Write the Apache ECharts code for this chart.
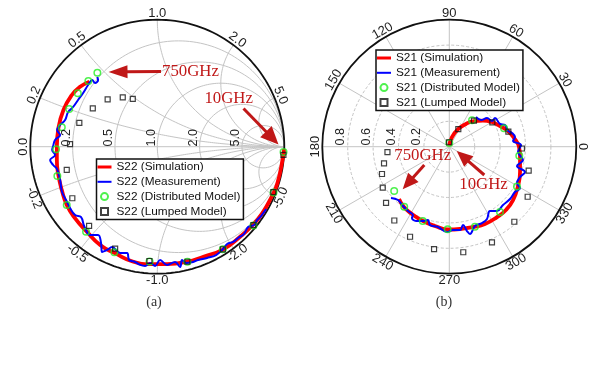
<!DOCTYPE html>
<html>
<head>
<meta charset="utf-8">
<script src="https://cdn.jsdelivr.net/npm/echarts@6/dist/echarts.min.js"></script>
<style>
  html, body { margin: 0; padding: 0; background: #fff; }
  #chart { width: 612px; height: 378px; }
</style>
</head>
<body>
<div id="chart"></div>
<script>
// S22 reflection (Re, Im), 10 GHz -> 750 GHz
const s22Simulation = [
  [0.998,-0.018],[0.993,-0.065],[0.945,-0.290],[0.897,-0.400],[0.826,-0.525],[0.752,-0.617],
  [0.652,-0.709],[0.520,-0.808],[0.363,-0.866],[0.232,-0.906],[0.075,-0.924],[-0.057,-0.924],
  [-0.188,-0.906],[-0.332,-0.839],[-0.450,-0.774],[-0.555,-0.669],[-0.647,-0.564],[-0.713,-0.459],
  [-0.752,-0.341],[-0.779,-0.223],[-0.791,-0.105],[-0.791,0.000],[-0.779,0.145],[-0.739,0.289],
  [-0.673,0.407],[-0.608,0.472],[-0.535,0.512]
];
const s22Measurement = [
  [0.857,-0.491],[0.817,-0.546],[0.786,-0.577],[0.762,-0.617],[0.715,-0.632],[0.683,-0.687],
  [0.636,-0.719],[0.597,-0.750],[0.550,-0.766],[0.510,-0.813],[0.463,-0.853],[0.392,-0.876],
  [0.321,-0.892],[0.282,-0.908],[0.227,-0.916],[0.195,-0.892],[0.180,-0.947],[0.140,-0.908],
  [0.077,-0.931],[0.022,-0.892],[-0.017,-0.939],[-0.057,-0.916],[-0.096,-0.939],[-0.135,-0.931],
  [-0.175,-0.908],[-0.222,-0.892],[-0.238,-0.837],[-0.293,-0.837],[-0.356,-0.790],[-0.395,-0.813],
  [-0.435,-0.829],[-0.443,-0.758],[-0.466,-0.695],[-0.529,-0.695],[-0.576,-0.624],[-0.600,-0.554],
  [-0.647,-0.538],[-0.687,-0.483],[-0.710,-0.435],[-0.750,-0.357],[-0.765,-0.262],[-0.789,-0.176],
  [-0.820,-0.144],[-0.844,-0.105],[-0.805,-0.065],[-0.828,-0.026],[-0.820,0.006],[-0.805,0.053],
  [-0.765,0.092],[-0.789,0.131],[-0.765,0.171],[-0.726,0.210],[-0.702,0.273],[-0.663,0.313],
  [-0.624,0.368],[-0.584,0.423],[-0.545,0.486],[-0.513,0.525],[-0.490,0.502],[-0.466,0.525],
  [-0.474,0.549]
];
const s22Distributed = [
  [0.994,-0.042],[0.915,-0.361],[0.757,-0.620],[0.516,-0.808],[0.237,-0.906],[-0.061,-0.904],
  [-0.338,-0.831],[-0.561,-0.669],[-0.713,-0.459],[-0.787,-0.231],[-0.797,-0.020],[-0.752,0.153],
  [-0.694,0.297],[-0.626,0.420],[-0.543,0.517],[-0.472,0.583]
];
const s22Lumped = [
  [0.993,-0.065],[0.914,-0.357],[0.757,-0.617],[0.516,-0.808],[0.237,-0.906],[-0.062,-0.900],
  [-0.332,-0.803],[-0.537,-0.624],[-0.669,-0.406],[-0.713,-0.183],[-0.687,0.021],[-0.614,0.188],
  [-0.508,0.302],[-0.391,0.372],[-0.272,0.389],[-0.193,0.376]
];

// S21 transmission (Re, Im), 10 GHz -> 750 GHz
const s21Simulation = [
  [0.000,0.010],[0.021,0.076],[0.069,0.139],[0.131,0.179],[0.194,0.202],[0.265,0.206],
  [0.336,0.194],[0.399,0.163],[0.462,0.124],[0.509,0.069],[0.549,-0.002],[0.557,-0.081],
  [0.557,-0.199],[0.541,-0.309],[0.502,-0.420],[0.446,-0.498],[0.376,-0.554],[0.281,-0.609],
  [0.194,-0.632],[0.084,-0.648],[-0.010,-0.652],[-0.113,-0.624],[-0.207,-0.585],[-0.294,-0.530],
  [-0.357,-0.475],[-0.396,-0.412]
];
const s21Measurement = [
  [0.210,0.234],[0.250,0.210],[0.297,0.226],[0.336,0.202],[0.360,0.226],[0.399,0.179],
  [0.439,0.171],[0.462,0.124],[0.494,0.108],[0.517,0.076],[0.502,0.045],[0.565,0.013],
  [0.541,-0.042],[0.580,-0.105],[0.533,-0.152],[0.596,-0.199],[0.557,-0.239],[0.533,-0.286],
  [0.557,-0.325],[0.517,-0.357],[0.478,-0.412],[0.423,-0.459],[0.376,-0.506],[0.320,-0.506],
  [0.297,-0.569],[0.257,-0.601],[0.202,-0.624],[0.163,-0.687],[0.139,-0.664],[0.108,-0.617],
  [0.084,-0.656],[0.029,-0.656],[-0.018,-0.672],[-0.089,-0.632],[-0.152,-0.617],[-0.168,-0.577],
  [-0.215,-0.585],[-0.262,-0.585],[-0.294,-0.561],[-0.286,-0.538],[-0.325,-0.506],[-0.365,-0.467],
  [-0.404,-0.420],[-0.459,-0.404]
];
const s21Distributed = [
  [0.000,0.030],[0.179,0.208],[0.431,0.145],[0.551,-0.071],[0.533,-0.313],[0.399,-0.514],
  [0.202,-0.630],[-0.013,-0.650],[-0.209,-0.585],[-0.355,-0.472],[-0.434,-0.349]
];
const s21Lumped = [
  [-0.002,0.035],[0.071,0.139],[0.194,0.205],[0.339,0.192],[0.465,0.118],[0.572,-0.014],
  [0.625,-0.189],[0.617,-0.394],[0.512,-0.591],[0.336,-0.753],[0.110,-0.831],[-0.120,-0.806],
  [-0.309,-0.709],[-0.433,-0.581],[-0.498,-0.443],[-0.524,-0.323],[-0.530,-0.215],[-0.514,-0.131],
  [-0.487,-0.042]
];

// tick labels
const smithTicks = [0.2, 0.5, 1.0, 2.0, 5.0];
const polarAngleTicks = [0, 30, 60, 90, 120, 150, 180, 210, 240, 270, 300, 330];
const polarRadiusTicks = [0.2, 0.4, 0.6, 0.8];

// layout
const A = { cx: 157.3, cy: 146.7, r: 127 };
const B = { cx: 449.3, cy: 146.7, r: 127 };
const RED = "#c01818";
const GRID_GRAY = "#c4c4c4";
const deg = Math.PI / 180;

const myChart = echarts.init(document.getElementById("chart"));

// smith chart grid (constant resistance circles, constant reactance arcs)
function resistanceCircle(r) {
  const pts = [];
  for (let k = 0; k <= 180; k++) {
    const t = (k / 180) * 2 * Math.PI;
    pts.push([r / (1 + r) + Math.cos(t) / (1 + r), Math.sin(t) / (1 + r)]);
  }
  return pts;
}
function reactanceArc(x) {
  const pts = [];
  for (let k = 0; k <= 240; k++) {
    const t = (k / 240) * 0.9995;
    const rr = t / (1 - t);
    const den = (rr + 1) * (rr + 1) + x * x;
    pts.push([(rr * rr - 1 + x * x) / den, (2 * x) / den]);
  }
  return pts;
}
function gridSeries(data, color, width, z) {
  return {
    type: "line", xAxisIndex: 0, yAxisIndex: 0, data: data,
    symbol: "none", silent: true, clip: false, animation: false,
    lineStyle: { color: color, width: width }, z: z,
  };
}

const series = [];
smithTicks.forEach((v) => {
  series.push(gridSeries(resistanceCircle(v), GRID_GRAY, 1, 1));
  series.push(gridSeries(reactanceArc(v), GRID_GRAY, 1, 1));
  series.push(gridSeries(reactanceArc(-v), GRID_GRAY, 1, 1));
});
series.push(gridSeries([[-1, 0], [1, 0]], GRID_GRAY, 1, 1));
series.push(gridSeries(resistanceCircle(0), "#111", 1.8, 3));

// data series, smith chart
series.push(
  {
    name: "S22 (Simulation)", type: "line", xAxisIndex: 0, yAxisIndex: 0,
    data: s22Simulation, symbol: "none", smooth: 0.5, clip: false,
    lineStyle: { color: "#ff0000", width: 3.8 }, itemStyle: { color: "#ff0000" }, z: 5,
  },
  {
    name: "S22 (Measurement)", type: "line", xAxisIndex: 0, yAxisIndex: 0,
    data: s22Measurement, symbol: "none", smooth: 0.4, clip: false,
    lineStyle: { color: "#0000ff", width: 2 }, itemStyle: { color: "#0000ff" }, z: 6,
  },
  {
    name: "S22 (Distributed Model)", type: "scatter", xAxisIndex: 0, yAxisIndex: 0,
    data: s22Distributed, symbol: "circle", symbolSize: 6.5, clip: false,
    itemStyle: { color: "rgba(0,0,0,0)", borderColor: "#22ee22", borderWidth: 1.5 }, z: 7,
  },
  {
    name: "S22 (Lumped Model)", type: "scatter", xAxisIndex: 0, yAxisIndex: 0,
    data: s22Lumped, symbol: "rect", symbolSize: 5, clip: false,
    itemStyle: { color: "rgba(0,0,0,0)", borderColor: "#111", borderWidth: 1.2 }, z: 8,
  }
);

// polar plot: S21 magnitude / phase
function toPolar(p) {
  const m = Math.hypot(p[0], p[1]);
  let a = Math.atan2(p[1], p[0]) / deg;
  if (a < 0) a += 360;
  return [m, a];
}
series.push(
  {
    name: "S21 (Simulation)", type: "line", coordinateSystem: "polar",
    data: s21Simulation.map(toPolar), symbol: "none", smooth: 0.5,
    lineStyle: { color: "#ff0000", width: 3.8 }, itemStyle: { color: "#ff0000" }, z: 5,
  },
  {
    name: "S21 (Measurement)", type: "line", coordinateSystem: "polar",
    data: s21Measurement.map(toPolar), symbol: "none", smooth: 0.4,
    lineStyle: { color: "#0000ff", width: 2 }, itemStyle: { color: "#0000ff" }, z: 6,
  },
  {
    name: "S21 (Distributed Model)", type: "scatter", coordinateSystem: "polar",
    data: s21Distributed.map(toPolar), symbol: "circle", symbolSize: 6.5,
    itemStyle: { color: "rgba(0,0,0,0)", borderColor: "#22ee22", borderWidth: 1.5 }, z: 7,
  },
  {
    name: "S21 (Lumped Model)", type: "scatter", coordinateSystem: "polar",
    data: s21Lumped.map(toPolar), symbol: "rect", symbolSize: 5,
    itemStyle: { color: "rgba(0,0,0,0)", borderColor: "#111", borderWidth: 1.2 }, z: 8,
  }
);

// labels drawn around the circles
function tangentRotation(a) {
  let n = ((a % 360) + 360) % 360;
  if (n > 180) n -= 360;
  return (n >= 0 ? n - 90 : n + 90) * deg;
}
function tickText(x, y, rot, text, size) {
  return {
    type: "text", x: x, y: y, rotation: rot, z: 30,
    style: {
      text: text, fontSize: size, fontFamily: "Liberation Sans", fill: "#1e1e1e",
      align: "center", verticalAlign: "middle",
    },
  };
}
const graphics = [];

// smith outer (reactance) labels
const outerVals = [0].concat(smithTicks, smithTicks.map((v) => -v));
outerVals.forEach((x) => {
  const gx = (x * x - 1) / (x * x + 1), gy = (2 * x) / (x * x + 1);
  const a = Math.atan2(gy, gx) / deg;
  const R = A.r + 6.5;
  graphics.push(tickText(A.cx + R * Math.cos(a * deg), A.cy - R * Math.sin(a * deg),
    tangentRotation(a), x.toFixed(1), 13));
});
// smith inner (resistance) labels
smithTicks.forEach((r) => {
  const gx = (r - 1) / (r + 1);
  graphics.push(tickText(A.cx + A.r * gx - 6, A.cy - 9, 90 * deg, r.toFixed(1), 12.5));
});
// polar angle labels
polarAngleTicks.forEach((a) => {
  const R = B.r + 6.5;
  graphics.push(tickText(B.cx + R * Math.cos(a * deg), B.cy - R * Math.sin(a * deg),
    tangentRotation(a), String(a), 13));
});
// polar radius labels
polarRadiusTicks.forEach((v) => {
  graphics.push(tickText(B.cx - v * B.r - 7, B.cy - 10, 90 * deg, v.toFixed(1), 12.5));
});

// annotation arrows
function arrow(x1, y1, x2, y2, head, half) {
  const L = Math.hypot(x2 - x1, y2 - y1), ux = (x2 - x1) / L, uy = (y2 - y1) / L;
  const bx = x2 - ux * head, by = y2 - uy * head;
  graphics.push(
    { type: "line", z: 25, shape: { x1: x1, y1: y1, x2: bx + ux, y2: by + uy },
      style: { stroke: RED, lineWidth: 3 } },
    { type: "polygon", z: 25,
      shape: { points: [[x2, y2], [bx - uy * half, by + ux * half], [bx + uy * half, by - ux * half]] },
      style: { fill: RED } }
  );
}
function note(x, y, text) {
  graphics.push({
    type: "text", x: x, y: y, z: 25,
    style: { text: text, fontSize: 16.8, fontFamily: "Liberation Serif", fill: RED,
      align: "center", verticalAlign: "middle" },
  });
}
arrow(161, 71.5, 108.5, 72, 19, 6.5);
note(190.5, 71.5, "750GHz");
arrow(243.5, 108.5, 278.5, 144.5, 18, 8);
note(228.7, 98.5, "10GHz");
arrow(424.3, 165, 402.7, 189.3, 16, 7);
note(422.7, 156, "750GHz");
arrow(484.3, 175, 456.7, 151, 16, 7);
note(483.5, 184.5, "10GHz");

// panel captions
graphics.push(
  { type: "text", x: 154, y: 302, style: { text: "(a)", fontSize: 14, fontFamily: "Liberation Serif",
    fill: "#333", align: "center", verticalAlign: "middle" } },
  { type: "text", x: 444, y: 302, style: { text: "(b)", fontSize: 14, fontFamily: "Liberation Serif",
    fill: "#333", align: "center", verticalAlign: "middle" } }
);

// legend icons: plain line strokes and a small square
const ICON_RED = "path://M0,0L14,0L14,3L0,3Z";
const ICON_BLUE = "path://M0,0L14,0L14,2L0,2Z";
const ICON_SQUARE = "path://M0,0L10,0L10,10L0,10Z";
function legendData(prefix) {
  return [
    { name: prefix + " (Simulation)", icon: ICON_RED },
    { name: prefix + " (Measurement)", icon: ICON_BLUE },
    { name: prefix + " (Distributed Model)" },
    { name: prefix + " (Lumped Model)", icon: ICON_SQUARE },
  ];
}

const legendBase = {
  orient: "vertical", selectedMode: false,
  itemWidth: 14, itemHeight: 7, itemGap: 2.8,
  padding: [2, 3, 2, 1],
  backgroundColor: "#fff", borderColor: "#111", borderWidth: 1.5, borderRadius: 0,
  textStyle: { fontFamily: "Liberation Sans", fontSize: 11.8, color: "#111", lineHeight: 12 },
  z: 20,
};

var option = {
  animation: false,
  backgroundColor: "#fff",
  grid: {
    left: A.cx - A.r, top: A.cy - A.r, width: 2 * A.r, height: 2 * A.r,
    containLabel: false, outerBoundsMode: "none",
  },
  xAxis: { type: "value", min: -1, max: 1, show: false },
  yAxis: { type: "value", min: -1, max: 1, show: false },
  polar: { center: [B.cx, B.cy], radius: B.r },
  angleAxis: {
    type: "value", min: 0, max: 360, interval: 30, startAngle: 0, clockwise: false,
    axisLine: { lineStyle: { color: "#111", width: 1.8 } },
    axisTick: { show: false }, axisLabel: { show: false },
    splitLine: { show: true, lineStyle: { color: GRID_GRAY, width: 1 } },
  },
  radiusAxis: {
    type: "value", min: 0, max: 1, interval: 0.2,
    axisLine: { show: false }, axisTick: { show: false }, axisLabel: { show: false },
    splitLine: { show: true, lineStyle: { color: GRID_GRAY, width: 1, type: [3, 2] } },
  },
  legend: [
    Object.assign({}, legendBase, { left: 96.5, top: 159, data: legendData("S22") }),
    Object.assign({}, legendBase, { left: 376, top: 50, data: legendData("S21") }),
  ],
  series: series,
  graphic: graphics,
};

myChart.setOption(option);
</script>
</body>
</html>
